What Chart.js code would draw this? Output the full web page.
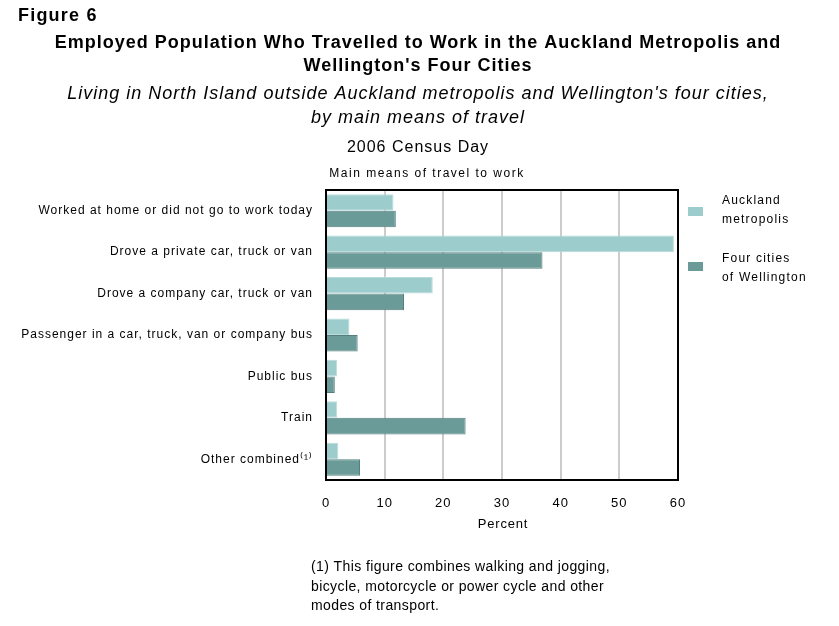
<!DOCTYPE html>
<html>
<head>
<meta charset="utf-8">
<script src="https://cdn.jsdelivr.net/npm/chart.js@4/dist/chart.umd.min.js"></script>
<style>
  html, body { margin: 0; padding: 0; background: #fff; }
  #wrap { width: 839px; height: 626px; }
</style>
</head>
<body>
<div id="wrap"><canvas id="myChart" width="839" height="626"></canvas></div>
<script>
const categories = [
  'Worked at home or did not go to work today',
  'Drove a private car, truck or van',
  'Drove a company car, truck or van',
  'Passenger in a car, truck, van or company bus',
  'Public bus',
  'Train',
  'Other combined\u207D\u00B9\u207E'
];
const aucklandValues = [11.5, 59.3, 18.2, 4.0, 1.9, 1.9, 2.1];
const wellingtonValues = [11.9, 36.9, 13.3, 5.4, 1.5, 23.8, 5.8];
const seriesNames = ['Auckland metropolis', 'Four cities of Wellington'];
const xTicks = [0, 10, 20, 30, 40, 50, 60];

const FONT = '"Liberation Sans", Arial, sans-serif';

// the original tick text is widely spaced, so widen it before the scales draw
const spacingPlugin = {
  id: 'spacingPlugin',
  beforeDraw(chart) {
    chart.ctx.letterSpacing = '1px';
  }
};

// headings, legend and footnote drawn onto the same canvas
const textPlugin = {
  id: 'textPlugin',
  afterDraw(chart) {
    const ctx = chart.ctx;
    const area = chart.chartArea;
    ctx.save();
    ctx.fillStyle = '#000';
    ctx.textBaseline = 'middle';

    function put(str, x, y, font, align, spacing) {
      ctx.font = font;
      ctx.textAlign = align || 'left';
      ctx.letterSpacing = (spacing || 0) + 'px';
      ctx.fillText(str, x, y);
    }

    put('Figure 6', 18, 16, 'bold 18px ' + FONT, 'left', 1.2);
    put('Employed Population Who Travelled to Work in the Auckland Metropolis and', 418, 43, 'bold 18px ' + FONT, 'center', 1);
    put("Wellington's Four Cities", 418, 66, 'bold 18px ' + FONT, 'center', 1);
    put("Living in North Island outside Auckland metropolis and Wellington's four cities,", 418, 94, 'italic 18px ' + FONT, 'center', 1);
    put('by main means of travel', 418, 118, 'italic 18px ' + FONT, 'center', 1);
    put('2006 Census Day', 418, 148, '16px ' + FONT, 'center', 1);
    put('Main means of travel to work', 427, 174, '12px ' + FONT, 'center', 1.5);
    put('Percent', 503, 524, '13px ' + FONT, 'center', 0.8);

    // box around the plot
    ctx.letterSpacing = '0px';
    ctx.strokeStyle = '#000';
    ctx.lineWidth = 2;
    ctx.strokeRect(area.left, area.top, area.right - area.left, area.bottom - area.top);

    // legend
    const ds = chart.data.datasets;
    ctx.fillStyle = ds[0].backgroundColor;
    ctx.fillRect(688, 207, 15, 9);
    ctx.fillStyle = ds[1].backgroundColor;
    ctx.fillRect(688, 262, 15, 9);
    ctx.fillStyle = '#000';
    put('Auckland', 722, 201, '12px ' + FONT, 'left', 1.2);
    put('metropolis', 722, 220, '12px ' + FONT, 'left', 1.2);
    put('Four cities', 722, 259, '12px ' + FONT, 'left', 1.2);
    put('of Wellington', 722, 278, '12px ' + FONT, 'left', 1.2);

    // footnote
    put('(1) This figure combines walking and jogging,', 311, 567, '14px ' + FONT, 'left', 0.4);
    put('bicycle, motorcycle or power cycle and other', 311, 587, '14px ' + FONT, 'left', 0.4);
    put('modes of transport.', 311, 606, '14px ' + FONT, 'left', 0.4);
    ctx.restore();
  }
};

const ctx = document.getElementById('myChart');
new Chart(ctx, {
  type: 'bar',
  data: {
    labels: categories,
    datasets: [
      {
        label: seriesNames[0],
        data: aucklandValues,
        backgroundColor: '#9ccccb',
        borderColor: '#b8dcdb',
        borderWidth: 1,
        categoryPercentage: 0.8,
        barPercentage: 1.0
      },
      {
        label: seriesNames[1],
        data: wellingtonValues,
        backgroundColor: '#6a9b99',
        borderColor: '#557f7e',
        borderWidth: 1,
        categoryPercentage: 0.8,
        barPercentage: 1.0
      }
    ]
  },
  options: {
    indexAxis: 'y',
    responsive: false,
    animation: false,
    devicePixelRatio: 1,
    layout: { padding: { left: 0, right: 161, top: 190, bottom: 100 } },
    plugins: {
      legend: { display: false },
      tooltip: { enabled: false }
    },
    scales: {
      x: {
        min: 0,
        max: 60,
        afterBuildTicks(scale) {
          scale.ticks = xTicks.map((v) => ({ value: v }));
        },
        afterFit(scale) { scale.height = 46; },
        grid: { color: '#cccccc', lineWidth: 2, drawTicks: false },
        border: { display: false },
        ticks: { color: '#000', padding: 16, font: { family: FONT, size: 13 } }
      },
      y: {
        afterFit(scale) { scale.width = 326; },
        grid: { display: false, drawTicks: false },
        border: { display: false },
        ticks: { color: '#000', padding: 13, font: { family: FONT, size: 12 } }
      }
    }
  },
  plugins: [spacingPlugin, textPlugin]
});
</script>
</body>
</html>
